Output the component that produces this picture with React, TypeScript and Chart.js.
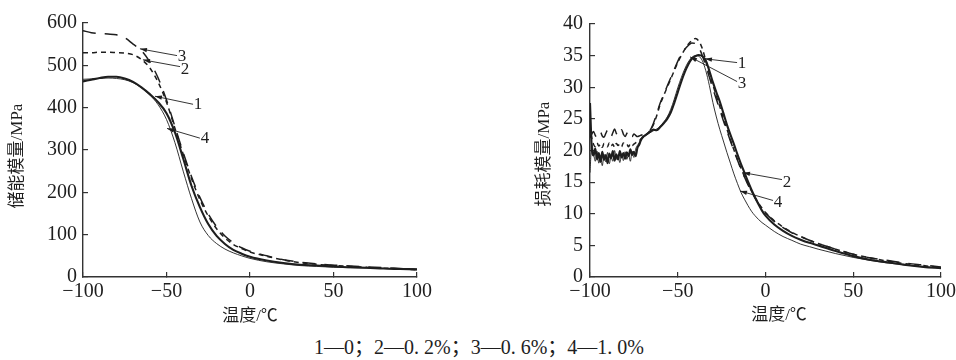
import React, { useEffect, useRef } from 'react';
import { Chart, registerables } from 'chart.js';

Chart.register(...registerables);

// ---------------- Data ----------------
// Left panel: storage modulus (MPa) vs temperature (°C)
const LEFT_T = [-100, -95, -90, -85, -80, -75, -70, -65, -60, -55, -50, -45, -40, -35, -30, -25, -20, -15, -10, -5, 0, 10, 20, 30, 40, 50, 60, 70, 80, 90, 100];
const LEFT_1 = [462, 466, 470, 473, 473, 469, 461, 448, 432, 413, 387, 342, 280, 215, 165, 125, 97, 78, 64, 55, 48, 39, 33, 29, 27, 25, 23, 22, 20, 19, 18];
const LEFT_2 = [530, 530, 531, 531, 530, 529, 525, 514, 494, 460, 413, 352, 290, 232, 183, 144, 114, 92, 77, 67, 59, 49, 40, 34, 30, 27, 25, 23, 21, 19, 17];
const LEFT_3 = [582, 577, 575, 574, 572, 565, 550, 535, 508, 470, 418, 356, 294, 237, 188, 149, 119, 97, 81, 69, 61, 50, 41, 35, 31, 28, 26, 24, 22, 20, 18];
const LEFT_4 = [467, 468, 469, 470, 469, 466, 459, 447, 430, 407, 372, 318, 250, 185, 130, 98, 79, 66, 57, 50, 44, 36, 31, 27, 25, 23, 22, 21, 20, 19, 18];

// Right panel: loss modulus (MPa) vs temperature (°C)
const RIGHT_T = [
  -100, -99, -98, -97, -96, -95, -94, -93, -92, -91, -90, -89, -88, -87, -86, -85, -84, -83, -82, -81, -80, -79, -78, -77, -76, -75, -74, -73, -72, -71, -70,
  -68, -66, -64, -62, -60, -58, -56, -54, -52, -50, -48, -46, -44, -42, -40, -38, -36, -34, -32, -30, -28, -26, -24, -22, -20, -18, -16, -14, -12, -10, -8, -6, -4, -2, 0,
  5, 10, 15, 20, 25, 30, 40, 50, 60, 70, 80, 90, 100,
];
const RIGHT_1 = [
  27.5, 20.5, 19.2, 20.3, 18.6, 19.6, 18.2, 19.8, 18.5, 19.3, 18.0, 19.5, 18.8, 19.9, 18.4, 19.4, 18.6, 19.9, 18.9, 19.6, 18.7, 19.7, 19.1, 20.2, 19.3, 19.8, 19.1, 20.4, 20.9, 21.6, 22.1,
  22.5, 22.9, 23.3, 23.2, 23.7, 24.3, 25.0, 26.0, 27.5, 29.2, 30.9, 32.4, 33.6, 34.5, 34.9, 35.1, 34.9, 34.2, 32.6, 30.8, 29.2, 27.7, 25.9, 24.1, 22.5, 21.0, 19.4, 17.9, 16.5, 15.1, 13.8, 12.6, 11.5, 10.5, 9.7,
  8.3, 7.3, 6.5, 5.9, 5.4, 5.0, 4.1, 3.3, 2.7, 2.3, 1.9, 1.6, 1.4,
];
const RIGHT_2 = [
  24.0, 22.0, 21.0, 20.6, 21.2, 20.7, 21.0, 20.5, 21.1, 20.8, 20.6, 21.2, 20.7, 21.0, 20.5, 21.1, 20.8, 21.0, 20.6, 21.2, 20.8, 20.9, 20.6, 21.1, 20.8, 21.0, 21.2, 21.4, 21.5, 21.8, 22.0,
  22.5, 23.1, 24.0, 25.5, 27.3, 28.7, 30.0, 31.3, 32.6, 33.9, 35.0, 36.0, 36.8, 37.4, 37.7, 37.3, 36.1, 34.2, 32.2, 30.4, 28.6, 26.9, 25.1, 23.4, 21.7, 20.1, 18.6, 17.2, 15.9, 14.7, 13.6, 12.6, 11.7, 10.9, 10.2,
  8.9, 7.9, 7.1, 6.4, 5.8, 5.3, 4.4, 3.6, 3.0, 2.5, 2.1, 1.8, 1.5,
];
const RIGHT_3 = [
  22.0, 22.6, 23.0, 22.4, 22.0, 22.5, 22.9, 22.3, 22.1, 22.7, 23.2, 22.6, 22.2, 22.8, 23.4, 22.7, 22.3, 22.9, 23.3, 22.6, 22.2, 22.7, 23.1, 22.5, 22.2, 22.6, 22.4, 22.2, 22.3, 22.4, 22.5,
  22.7, 23.1, 24.2, 25.8, 27.5, 28.8, 30.2, 31.5, 32.8, 34.1, 35.2, 36.0, 36.6, 37.0, 36.9, 36.3, 35.0, 33.4, 31.6, 29.8, 28.1, 26.4, 24.7, 23.1, 21.5, 20.0, 18.5, 17.1, 15.8, 14.6, 13.5, 12.5, 11.6, 10.8, 10.1,
  8.8, 7.8, 7.0, 6.4, 5.8, 5.3, 4.4, 3.6, 3.0, 2.6, 2.2, 1.9, 1.6,
];
const RIGHT_4 = [
  16.5, 21.0, 19.6, 18.3, 19.9, 18.0, 19.2, 17.6, 19.4, 18.2, 19.7, 17.9, 19.0, 18.3, 20.0, 18.6, 19.2, 18.1, 19.5, 18.4, 19.8, 18.6, 19.4, 18.3, 19.9, 18.9, 20.2, 20.8, 21.2, 21.9, 22.0,
  22.4, 22.8, 23.1, 23.4, 23.8, 24.5, 25.3, 26.5, 28.1, 29.9, 31.5, 32.9, 34.0, 34.7, 35.0, 34.9, 34.2, 32.6, 30.3, 27.6, 25.3, 23.3, 21.5, 19.7, 18.0, 16.3, 14.8, 13.4, 12.3, 11.3, 10.4, 9.7, 9.1, 8.6, 8.2,
  7.2, 6.4, 5.8, 5.2, 4.8, 4.4, 3.7, 3.1, 2.6, 2.2, 1.9, 1.6, 1.4,
];

const X_TICKS = [-100, -50, 0, 50, 100];
const LEFT_Y_TICKS = [0, 100, 200, 300, 400, 500, 600];
const RIGHT_Y_TICKS = [0, 5, 10, 15, 20, 25, 30, 35, 40];

// Curve labels: [label, labelT, labelV, tailT, tailV, tipT, tipV]
const LEFT_NOTES: [string, number, number, number, number, number, number][] = [
  ['3', -40.7, 520, -43.7, 523, -65.9, 539],
  ['2', -38.9, 490, -41.9, 497, -64.1, 513],
  ['1', -31.1, 408, -34.1, 408, -56.9, 427],
  ['4', -27.0, 326, -30.0, 328, -49.7, 351],
];
const RIGHT_NOTES: [string, number, number, number, number, number, number][] = [
  ['1', -13.4, 33.7, -16.2, 33.9, -34.5, 34.5],
  ['3', -13.4, 30.6, -16.2, 30.9, -43.0, 34.8],
  ['2', 12.3, 14.9, 9.4, 15.4, -12.8, 16.5],
  ['4', 7.1, 11.8, 4.3, 12.1, -14.5, 13.6],
];

const LEFT_Y_TITLE = '储能模量/MPa';
const RIGHT_Y_TITLE = '损耗模量/MPa';
const X_TITLE = '温度/℃';
const CAPTION = '1—0；2—0. 2%；3—0. 6%；4—1. 0%';

// ---------------- Styling ----------------
const SERIF = '"Liberation Serif", "Times New Roman", "Noto Sans CJK SC", serif';
const INK = '#1e1e1e';
const AXIS = '#333333';

type Note = [string, number, number, number, number, number, number];

interface PanelCfg {
  T: number[];
  series: number[][];
  yMax: number;
  yTicks: number[];
  notes: Note[];
  yTitle: string;
  yTitlePos: [number, number];
  xTitlePos: [number, number];
  axisLeft: number;
  top: number;
  bottom: number;
  right: number;
  height: number;
  yLabelPad: number;
}

const STYLES = [
  { borderWidth: 2.1, borderDash: [] as number[] },
  { borderWidth: 1.5, borderDash: [5, 4] },
  { borderWidth: 1.5, borderDash: [13, 9] },
  { borderWidth: 0.9, borderDash: [] as number[] },
];

function fmtTick(v: number): string {
  return v < 0 ? '−' + Math.abs(v) : String(v);
}

function makeChart(canvas: HTMLCanvasElement, cfg: PanelCfg): Chart {
  const datasets = cfg.series.map((vals, si) => ({
    label: String(si + 1),
    data: cfg.T.map((t, i) => ({ x: t, y: vals[i] })),
    borderColor: INK,
    backgroundColor: INK,
    borderWidth: STYLES[si].borderWidth,
    borderDash: STYLES[si].borderDash,
    pointRadius: 0,
    fill: false,
    cubicInterpolationMode: 'monotone' as const,
  }));

  const decor = {
    id: 'decor' + cfg.yTitle,
    afterDraw(chart: any) {
      const ctx = chart.ctx as CanvasRenderingContext2D;
      const xs = chart.scales.x;
      const ys = chart.scales.y;
      ctx.save();
      ctx.strokeStyle = INK;
      ctx.fillStyle = INK;
      ctx.lineWidth = 0.9;
      ctx.setLineDash([]);
      for (const n of cfg.notes) {
        const [txt, lt, lv, at, av, pt, pv] = n;
        const x1 = xs.getPixelForValue(at);
        const y1 = ys.getPixelForValue(av);
        const x2 = xs.getPixelForValue(pt);
        const y2 = ys.getPixelForValue(pv);
        ctx.beginPath();
        ctx.moveTo(x1, y1);
        ctx.lineTo(x2, y2);
        ctx.stroke();
        const ang = Math.atan2(y2 - y1, x2 - x1);
        const L = 7;
        const W = 2.2;
        ctx.beginPath();
        ctx.moveTo(x2, y2);
        ctx.lineTo(x2 - L * Math.cos(ang) + W * Math.sin(ang), y2 - L * Math.sin(ang) - W * Math.cos(ang));
        ctx.lineTo(x2 - L * Math.cos(ang) - W * Math.sin(ang), y2 - L * Math.sin(ang) + W * Math.cos(ang));
        ctx.closePath();
        ctx.fill();
        ctx.font = '17px ' + SERIF;
        ctx.textAlign = 'center';
        ctx.textBaseline = 'middle';
        ctx.fillText(txt, xs.getPixelForValue(lt), ys.getPixelForValue(lv));
      }
      // axis titles
      ctx.font = '17px ' + SERIF;
      ctx.textAlign = 'center';
      ctx.textBaseline = 'middle';
      ctx.fillText(X_TITLE, cfg.xTitlePos[0], cfg.xTitlePos[1]);
      ctx.translate(cfg.yTitlePos[0], cfg.yTitlePos[1]);
      ctx.rotate(-Math.PI / 2);
      ctx.fillText(cfg.yTitle, 0, 0);
      ctx.restore();
    },
  };

  return new Chart(canvas, {
    type: 'line',
    data: { datasets },
    options: {
      animation: false,
      responsive: false,
      devicePixelRatio: 1,
      layout: { padding: { top: cfg.top, right: cfg.right, left: 0, bottom: 0 } },
      plugins: { legend: { display: false }, tooltip: { enabled: false }, title: { display: false } },
      scales: {
        x: {
          type: 'linear',
          min: -100,
          max: 100,
          afterBuildTicks: (s: any) => {
            s.ticks = X_TICKS.map((v) => ({ value: v }));
          },
          afterFit: (s: any) => {
            s.height = cfg.height - cfg.bottom;
          },
          ticks: {
            color: INK,
            font: { family: SERIF, size: 20 },
            padding: 8,
            maxRotation: 0,
            autoSkip: false,
            callback: (v: any) => fmtTick(Number(v)),
          },
          grid: { drawOnChartArea: false, drawTicks: true, tickLength: -5, color: AXIS, lineWidth: 1.2 },
          border: { display: true, color: AXIS, width: 1.4 },
        },
        y: {
          type: 'linear',
          min: 0,
          max: cfg.yMax,
          afterBuildTicks: (s: any) => {
            s.ticks = cfg.yTicks.map((v) => ({ value: v }));
          },
          afterFit: (s: any) => {
            s.width = cfg.axisLeft;
          },
          ticks: {
            color: INK,
            font: { family: SERIF, size: 20 },
            padding: cfg.yLabelPad,
            autoSkip: false,
            callback: (v: any) => fmtTick(Number(v)),
          },
          grid: { drawOnChartArea: false, drawTicks: true, tickLength: -5, color: AXIS, lineWidth: 1.2 },
          border: { display: true, color: AXIS, width: 1.4 },
        },
      },
    },
    plugins: [decor],
  } as any);
}

const H = 335;

export default function App() {
  const leftRef = useRef<HTMLCanvasElement | null>(null);
  const rightRef = useRef<HTMLCanvasElement | null>(null);

  useEffect(() => {
    const charts: Chart[] = [];
    if (leftRef.current) {
      charts.push(
        makeChart(leftRef.current, {
          T: LEFT_T,
          series: [LEFT_1, LEFT_2, LEFT_3, LEFT_4],
          yMax: 600,
          yTicks: LEFT_Y_TICKS,
          notes: LEFT_NOTES,
          yTitle: LEFT_Y_TITLE,
          yTitlePos: [18, 156],
          xTitlePos: [250, 317],
          axisLeft: 83,
          top: 21,
          bottom: 277,
          right: 480 - 417,
          height: H,
          yLabelPad: 11,
        })
      );
    }
    if (rightRef.current) {
      charts.push(
        makeChart(rightRef.current, {
          T: RIGHT_T,
          series: [RIGHT_1, RIGHT_2, RIGHT_3, RIGHT_4],
          yMax: 40,
          yTicks: RIGHT_Y_TICKS,
          notes: RIGHT_NOTES,
          yTitle: RIGHT_Y_TITLE,
          yTitlePos: [545 - 490, 154],
          xTitlePos: [779 - 490, 316],
          axisLeft: 590 - 490,
          top: 22,
          bottom: 277,
          right: 480 - (941 - 490),
          height: H,
          yLabelPad: 12,
        })
      );
    }
    return () => {
      charts.forEach((c) => c.destroy());
    };
  }, []);

  return (
    <div
      style={{
        position: 'absolute',
        left: 0,
        top: 0,
        width: 956,
        height: 360,
        overflow: 'hidden',
        background: '#ffffff',
      }}
    >
      <canvas ref={leftRef} width={480} height={H} style={{ position: 'absolute', left: 0, top: 0, width: 480, height: H }} />
      <canvas ref={rightRef} width={480} height={H} style={{ position: 'absolute', left: 490, top: 0, width: 480, height: H }} />
      <div
        style={{
          position: 'absolute',
          left: 0,
          width: 956,
          top: 335,
          textAlign: 'center',
          paddingLeft: 2,
          boxSizing: 'border-box',
          fontFamily: SERIF,
          fontSize: 20,
          lineHeight: '24px',
          color: INK,
          whiteSpace: 'pre',
        }}
      >
        {CAPTION}
      </div>
    </div>
  );
}
